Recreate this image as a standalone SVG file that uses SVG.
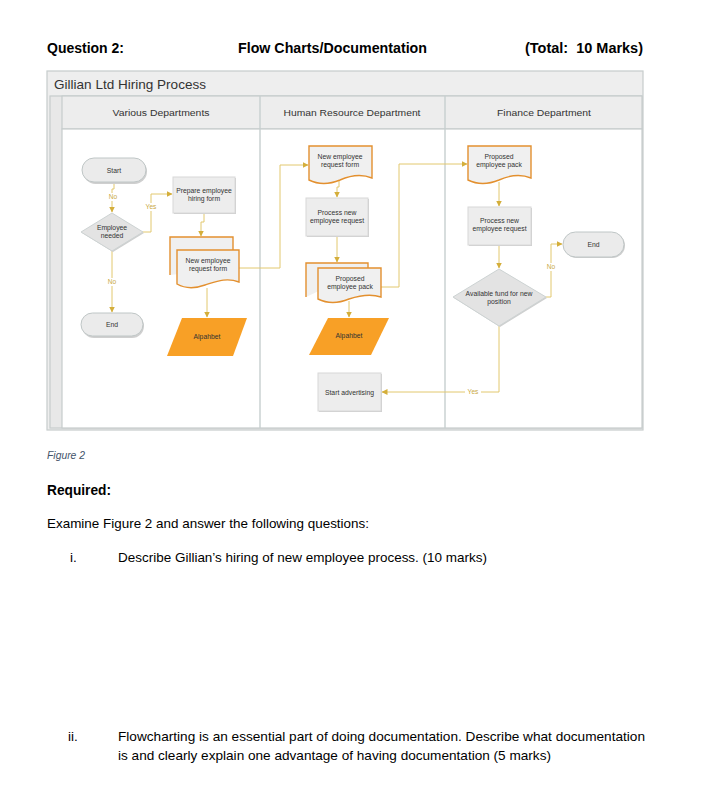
<svg xmlns="http://www.w3.org/2000/svg" width="707" height="812" viewBox="0 0 707 812">
<defs>
<marker id="arr" markerWidth="6" markerHeight="6" refX="5.5" refY="3" orient="auto" markerUnits="userSpaceOnUse">
<path d="M0,0 L6,3 L0,6 Z" fill="#D4AE3A"/>
</marker>
<style>
.q{font-family:"Liberation Sans",Arial,sans-serif;fill:#000}
.b{font-weight:bold}
.n{font-family:"Liberation Sans",Arial,sans-serif;font-size:6.8px;fill:#333;text-anchor:middle}
.hd{font-family:"Liberation Sans",Arial,sans-serif;font-size:9.6px;fill:#333;text-anchor:middle}
.lbl{font-family:"Liberation Sans",Arial,sans-serif;font-size:6.6px;fill:#C9A93F;text-anchor:middle}
.c{fill:none;stroke:#E2C86E;stroke-width:1}
.ca{fill:none;stroke:#E2C86E;stroke-width:1;marker-end:url(#arr)}
.pill{fill:#EBEBEB;stroke:#BFC6C6;stroke-width:1}
.box{fill:#EDEDED;stroke:#D8D8D8;stroke-width:1}
.shd{fill:#CFCFCF}
.dia{fill:#E3E3E3;stroke:#CDD3D3;stroke-width:1}
.doc{fill:#F0F0F0;stroke:#E3902F;stroke-width:1.4}
.io{fill:#F8A026}
.lane{fill:none;stroke:#C6CFCF;stroke-width:1.4}
</style>
</defs>
<rect width="707" height="812" fill="#FFFFFF"/>

<!-- page text -->
<text class="q b" x="47" y="53" font-size="14" textLength="77" lengthAdjust="spacingAndGlyphs">Question 2:</text>
<text class="q b" x="238" y="53" font-size="14" textLength="189" lengthAdjust="spacingAndGlyphs">Flow Charts/Documentation</text>
<text class="q b" x="525" y="53" font-size="14" textLength="118" lengthAdjust="spacingAndGlyphs">(Total:&#160; 10 Marks)</text>

<!-- swimlane frame -->
<g id="frame">
<rect x="47" y="71" width="596" height="359" fill="#EEEEEE" stroke="#C6CCCC" stroke-width="1.2"/>
<text x="54" y="89" font-family="Liberation Sans, Arial, sans-serif" font-size="13" fill="#333" textLength="152" lengthAdjust="spacingAndGlyphs">Gillian Ltd Hiring Process</text>
<rect x="50" y="96" width="592" height="332" fill="#E8E8E8" stroke="#C6CCCC" stroke-width="1.2"/>
<rect x="62" y="96" width="580" height="33" fill="#EDEDED" stroke="#C6CCCC" stroke-width="1.2"/>
<rect x="62" y="129" width="580" height="299" fill="#FFFFFF" stroke="#C6CCCC" stroke-width="1.2"/>
<line class="lane" x1="260" y1="96" x2="260" y2="428"/>
<line class="lane" x1="445" y1="96" x2="445" y2="428"/>
<text class="hd" x="161" y="116" textLength="97" lengthAdjust="spacingAndGlyphs">Various Departments</text>
<text class="hd" x="352" y="116" textLength="137" lengthAdjust="spacingAndGlyphs">Human Resource Department</text>
<text class="hd" x="544" y="116" textLength="94" lengthAdjust="spacingAndGlyphs">Finance Department</text>
</g>

<!-- connectors -->
<g id="connectors">
<path class="ca" d="M114,183 V189 H112 V212"/>
<path class="ca" d="M142,232 H151 V194 H172"/>
<path class="ca" d="M204,213 V222 H201 V236"/>
<path class="ca" d="M112,251 V312"/>
<path class="ca" d="M207,288 V317"/>
<path class="ca" d="M239,268 H280 V165 H308"/>
<path class="ca" d="M339,181 V187 H337 V197"/>
<path class="ca" d="M337,236 V262"/>
<path class="ca" d="M381,287 H399 V164 H467"/>
<path class="ca" d="M349,301 V317"/>
<path class="ca" d="M499,182 V206"/>
<path class="ca" d="M499,245 V268"/>
<path class="ca" d="M546,297 H551 V244 H562"/>
<path class="ca" d="M499,326 V392 H382"/>
<rect x="106" y="193" width="14" height="8" fill="#FFFFFF"/>
<text class="lbl" x="113" y="199">No</text>
<rect x="144" y="203" width="15" height="8" fill="#FFFFFF"/>
<text class="lbl" x="151" y="209">Yes</text>
<rect x="105" y="278" width="14" height="8" fill="#FFFFFF"/>
<text class="lbl" x="112" y="284">No</text>
<rect x="544" y="263" width="14" height="8" fill="#FFFFFF"/>
<text class="lbl" x="551" y="269">No</text>
<rect x="465" y="388" width="16" height="8" fill="#FFFFFF"/>
<text class="lbl" x="473" y="394">Yes</text>
</g>

<!-- Various Departments -->
<g id="start1">
<rect class="shd" x="83" y="159" width="64" height="25" rx="12.5"/>
<rect class="pill" x="82" y="158" width="64" height="24" rx="12"/>
<text class="n" x="114" y="172.5">Start</text>
</g>
<g id="decision1">
<polygon points="112,213 143,232 112,251 81,232" fill="#CFCFCF" transform="translate(1,1)"/>
<polygon class="dia" points="112,213 143,232 112,251 81,232"/>
<text class="n" x="112" y="230">Employee</text>
<text class="n" x="112" y="238">needed</text>
</g>
<g id="prepare">
<rect class="shd" x="174" y="178" width="62" height="36"/>
<rect class="box" x="173" y="177" width="62" height="36"/>
<text class="n" x="204" y="193">Prepare employee</text>
<text class="n" x="204" y="201">hiring form</text>
</g>
<g id="newreq1">
<path class="doc" d="M170,275 V237 H233 V268"/>
<path class="doc" d="M177,250 H239 V282 C226,277 215,282 205,285 C194,289 184,288 177,284 Z"/>
<text class="n" x="208" y="263">New employee</text>
<text class="n" x="208" y="271">request form</text>
</g>
<g id="end1">
<rect class="shd" x="82" y="314" width="62" height="24" rx="12"/>
<rect class="pill" x="81" y="313" width="62" height="23" rx="11.5"/>
<text class="n" x="112" y="327">End</text>
</g>
<g id="alp1">
<polygon class="io" points="182,318 247,318 233,356 167,356"/>
<text class="n" x="207" y="339" fill="#222">Alpahbet</text>
</g>

<!-- Human Resource Department -->
<g id="newreq2">
<path class="doc" d="M309,146 H372 V178 C360,173 349,176 340,180 C328,185 317,184 309,180 Z"/>
<text class="n" x="340" y="159">New employee</text>
<text class="n" x="340" y="167">request form</text>
</g>
<g id="process1">
<rect class="shd" x="307" y="199" width="62" height="38"/>
<rect class="box" x="306" y="198" width="62" height="38"/>
<text class="n" x="337" y="215">Process new</text>
<text class="n" x="337" y="223">employee request</text>
</g>
<g id="pack1">
<path class="doc" d="M306,297 V263 H368 V268"/>
<path class="doc" d="M318,268 H381 V297 C369,293 358,296 349,299 C337,304 326,303 318,299 Z"/>
<text class="n" x="350" y="281">Proposed</text>
<text class="n" x="350" y="289">employee pack</text>
</g>
<g id="alp2">
<polygon class="io" points="328,318 389,318 371,355 309,355"/>
<text class="n" x="349" y="338" fill="#222">Alpahbet</text>
</g>
<g id="advert">
<rect class="shd" x="319" y="374" width="63" height="38"/>
<rect class="box" x="318" y="373" width="63" height="38"/>
<text class="n" x="349.5" y="394.5">Start advertising</text>
</g>

<!-- Finance Department -->
<g id="pack2">
<path class="doc" d="M468,146 H531 V178 C519,173 508,176 499,180 C487,185 476,184 468,180 Z"/>
<text class="n" x="499" y="159">Proposed</text>
<text class="n" x="499" y="167">employee pack</text>
</g>
<g id="process2">
<rect class="shd" x="469" y="208" width="63" height="38"/>
<rect class="box" x="468" y="207" width="63" height="38"/>
<text class="n" x="499.5" y="223">Process new</text>
<text class="n" x="499.5" y="231">employee request</text>
</g>
<g id="decision2">
<polygon points="499,269 546,297 499,326 453,297" fill="#CFCFCF" transform="translate(1,1)"/>
<polygon class="dia" points="499,269 546,297 499,326 453,297"/>
<text class="n" x="499" y="296">Available fund for new</text>
<text class="n" x="499" y="304">position</text>
</g>
<g id="end2">
<rect class="shd" x="564" y="233" width="61" height="25" rx="12.5"/>
<rect class="pill" x="563" y="232" width="61" height="25" rx="12.5"/>
<text class="n" x="593.5" y="246.5">End</text>
</g>

<!-- questions -->
<text x="47" y="459" font-family="Liberation Sans, Arial, sans-serif" font-size="10" font-style="italic" fill="#44546A" textLength="38" lengthAdjust="spacingAndGlyphs">Figure 2</text>
<text class="q b" x="47" y="495" font-size="14" textLength="64" lengthAdjust="spacingAndGlyphs">Required:</text>
<text class="q" x="47" y="528" font-size="13.5" textLength="322" lengthAdjust="spacingAndGlyphs">Examine Figure 2 and answer the following questions:</text>
<text class="q" x="70" y="562" font-size="13.5">i.</text>
<text class="q" x="118" y="562" font-size="13.5" textLength="369" lengthAdjust="spacingAndGlyphs">Describe Gillian’s hiring of new employee process. (10 marks)</text>
<text class="q" x="68" y="741" font-size="13.5">ii.</text>
<text class="q" x="118" y="741" font-size="13.5" textLength="527" lengthAdjust="spacingAndGlyphs">Flowcharting is an essential part of doing documentation. Describe what documentation</text>
<text class="q" x="118" y="760" font-size="13.5" textLength="433" lengthAdjust="spacingAndGlyphs">is and clearly explain one advantage of having documentation (5 marks)</text>
</svg>
